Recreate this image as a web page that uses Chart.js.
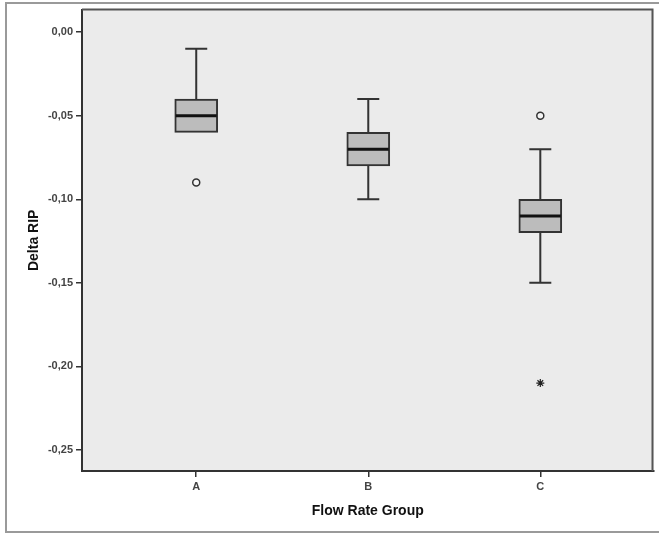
<!DOCTYPE html>
<html>
<head>
<meta charset="utf-8">
<script src="https://cdn.jsdelivr.net/npm/chart.js@4"></script>
<style>
  html, body { margin: 0; padding: 0; background: #fff; }
  canvas { display: block; }
</style>
</head>
<body>
<canvas id="boxChart" width="659" height="534"></canvas>
<script>
// box plot values per flow rate group
const groups = ['A', 'B', 'C'];
const whiskerHigh = [-0.01, -0.04, -0.07];
const q3 = [-0.04, -0.06, -0.10];
const median = [-0.05, -0.07, -0.11];
const q1 = [-0.06, -0.08, -0.12];
const whiskerLow = [-0.06, -0.10, -0.15];

// outliers (circles) and extremes (stars)
const outlierGroup = [0, 2];
const outlierValue = [-0.09, -0.05];
const extremeGroup = [2];
const extremeValue = [-0.21];

const yTicks = [0, -0.05, -0.10, -0.15, -0.20, -0.25];

const lineColor = '#333333';
const capWidth = 22;

const framePlugin = {
    id: 'frame',
    beforeDraw(chart) {
        const { ctx, chartArea: a, width, height } = chart;
        ctx.save();
        ctx.fillStyle = '#ffffff';
        ctx.fillRect(0, 0, width, height);
        // outer frame
        ctx.strokeStyle = '#9a9a9a';
        ctx.lineWidth = 2;
        ctx.beginPath();
        ctx.moveTo(width, 3);
        ctx.lineTo(6, 3);
        ctx.lineTo(6, 532);
        ctx.lineTo(width, 532);
        ctx.stroke();
        // plot background
        ctx.fillStyle = '#ebebeb';
        ctx.fillRect(a.left, a.top, a.right - a.left, a.bottom - a.top);
        ctx.restore();
    },
    afterDraw(chart) {
        const { ctx, chartArea: a } = chart;
        ctx.save();
        ctx.strokeStyle = '#555555';
        ctx.lineWidth = 2;
        ctx.beginPath();
        ctx.moveTo(a.left, a.top);
        ctx.lineTo(a.right - 1, a.top);
        ctx.lineTo(a.right - 1, a.bottom);
        ctx.stroke();
        ctx.restore();
    }
};

const boxPlugin = {
    id: 'boxParts',
    beforeDatasetsDraw(chart) {
        const { ctx, scales: { x, y } } = chart;
        ctx.save();
        ctx.strokeStyle = lineColor;
        ctx.lineWidth = 2;
        groups.forEach((g, i) => {
            const cx = x.getPixelForValue(i);
            [[whiskerHigh[i], q3[i]], [whiskerLow[i], q1[i]]].forEach(([w, q]) => {
                if (w === q) return;
                const yw = y.getPixelForValue(w);
                const yq = y.getPixelForValue(q);
                ctx.beginPath();
                ctx.moveTo(cx, yw);
                ctx.lineTo(cx, yq);
                ctx.moveTo(cx - capWidth / 2, yw);
                ctx.lineTo(cx + capWidth / 2, yw);
                ctx.stroke();
            });
        });
        ctx.restore();
    },
    afterDatasetsDraw(chart) {
        const { ctx, scales: { y } } = chart;
        const bars = chart.getDatasetMeta(0).data;
        ctx.save();
        ctx.strokeStyle = '#111111';
        ctx.lineWidth = 3;
        groups.forEach((g, i) => {
            const bar = bars[i];
            const half = bar.width / 2;
            const ym = y.getPixelForValue(median[i]);
            ctx.beginPath();
            ctx.moveTo(bar.x - half + 1, ym);
            ctx.lineTo(bar.x + half - 1, ym);
            ctx.stroke();
        });
        ctx.restore();
    }
};

const tickFont = { family: 'Liberation Sans, Arial, sans-serif', size: 11, weight: 'bold' };
const titleFont = { family: 'Liberation Sans, Arial, sans-serif', size: 14, weight: 'bold' };

const ctx = document.getElementById('boxChart').getContext('2d');
new Chart(ctx, {
    type: 'bar',
    data: {
        datasets: [
            {
                label: 'box',
                data: groups.map((g, i) => ({ x: i, y: [q1[i], q3[i]] })),
                backgroundColor: '#bcbcbc',
                borderColor: lineColor,
                borderWidth: 2,
                borderSkipped: false,
                barThickness: 43
            },
            {
                type: 'scatter',
                label: 'outliers',
                data: outlierGroup.map((g, i) => ({ x: g, y: outlierValue[i] })),
                pointStyle: 'circle',
                pointRadius: 3.5,
                backgroundColor: '#f4f4f4',
                borderColor: lineColor,
                borderWidth: 1.5
            },
            {
                type: 'scatter',
                label: 'extremes',
                data: extremeGroup.map((g, i) => ({ x: g, y: extremeValue[i] })),
                pointStyle: 'star',
                pointRadius: 4,
                backgroundColor: '#222222',
                borderColor: '#222222',
                borderWidth: 1.2
            }
        ]
    },
    options: {
        responsive: false,
        animation: false,
        layout: { padding: { left: 0, right: 1, top: 9, bottom: 0 } },
        plugins: {
            legend: { display: false },
            tooltip: { enabled: false }
        },
        scales: {
            x: {
                type: 'linear',
                offset: false,
                min: -0.664,
                max: 2.658,
                afterBuildTicks: scale => { scale.ticks = groups.map((g, i) => ({ value: i })); },
                afterFit: scale => { scale.height = 63; },
                grid: { offset: false, drawOnChartArea: false, drawTicks: true, tickLength: 6, color: lineColor, lineWidth: 1.5 },
                border: { display: true, color: lineColor, width: 2 },
                ticks: {
                    callback: v => groups[v],
                    padding: 3,
                    color: '#444',
                    font: tickFont
                },
                title: {
                    display: true,
                    text: 'Flow Rate Group',
                    color: '#111',
                    padding: { top: 4, bottom: 14 },
                    font: titleFont
                }
            },
            y: {
                type: 'linear',
                min: -0.2626,
                max: 0.0135,
                afterBuildTicks: scale => { scale.ticks = yTicks.map(v => ({ value: v })); },
                afterFit: scale => { scale.width = 82; },
                grid: { drawOnChartArea: false, drawTicks: true, tickLength: 6, color: lineColor, lineWidth: 1.5 },
                border: { display: true, color: lineColor, width: 2 },
                ticks: {
                    callback: v => v.toFixed(2).replace('.', ','),
                    padding: 3,
                    color: '#444',
                    font: tickFont
                },
                title: {
                    display: true,
                    text: 'Delta RIP',
                    color: '#111',
                    padding: { top: 26, bottom: 4 },
                    font: titleFont
                }
            }
        }
    },
    plugins: [framePlugin, boxPlugin]
});
</script>
</body>
</html>
